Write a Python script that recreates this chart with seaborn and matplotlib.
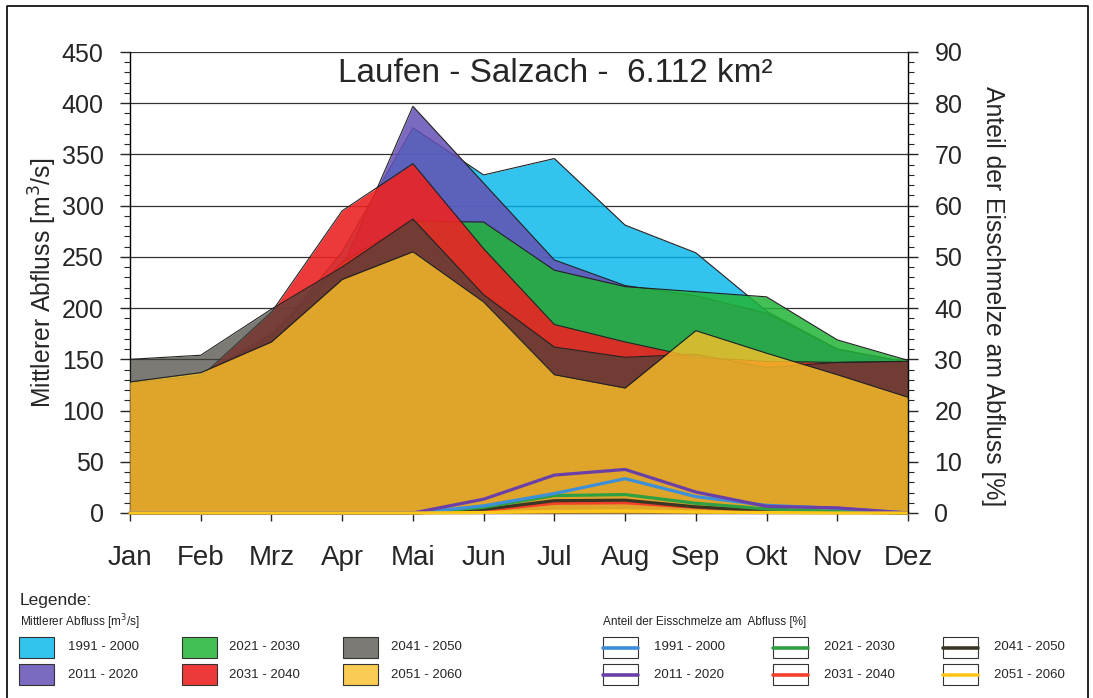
import numpy as np
import pandas as pd
import matplotlib
matplotlib.use("Agg")
import matplotlib.pyplot as plt
import seaborn as sns
from matplotlib.patches import Rectangle
from matplotlib.lines import Line2D
from matplotlib.ticker import MultipleLocator

# ---- data -------------------------------------------------------------
months = ["Jan", "Feb", "Mrz", "Apr", "Mai", "Jun", "Jul", "Aug", "Sep", "Okt", "Nov", "Dez"]
periods = ["1991 - 2000", "2011 - 2020", "2021 - 2030", "2031 - 2040", "2041 - 2050", "2051 - 2060"]

# mean discharge [m3/s]
q_1991 = [127, 134, 170, 255, 376, 330, 346, 281, 254, 197, 160, 147]
q_2011 = [127, 134, 175, 239, 397, 322, 247, 222, 212, 195, 160, 147]
q_2021 = [127, 134, 172, 245, 285, 284, 237, 221, 216, 211, 169, 149]
q_2031 = [127, 133, 196, 295, 341, 258, 184, 167, 152, 148, 147, 148]
q_2041 = [150, 154, 199, 240, 287, 213, 162, 152, 155, 142, 147, 148]
q_2051 = [128, 137, 167, 228, 255, 206, 135, 122, 178, 156, 135, 113]

# share of ice melt in discharge [%]
ice_1991 = [0, 0, 0, 0, 0, 1.4, 3.8, 6.7, 3.2, 1.5, 0.9, 0]
ice_2011 = [0, 0, 0, 0, 0, 2.7, 7.4, 8.5, 4.1, 1.3, 1.0, 0]
ice_2021 = [0, 0, 0, 0, 0, 1.1, 3.4, 3.6, 1.9, 0.8, 0.3, 0]
ice_2031 = [0, 0, 0, 0, 0, 0.5, 1.9, 2.0, 1.1, 0.4, 0.2, 0]
ice_2041 = [0, 0, 0, 0, 0, 0.7, 2.4, 2.5, 1.2, 0.4, 0.2, 0]
ice_2051 = [0, 0, 0, 0, 0, 0.1, 0.3, 0.4, 0.2, 0.1, 0.0, 0]

q_series = [q_1991, q_2011, q_2021, q_2031, q_2041, q_2051]
ice_series = [ice_1991, ice_2011, ice_2021, ice_2031, ice_2041, ice_2051]

# translucent area fills (colour, opacity), drawn in period order
area_colors = ["#00B4EC", "#6450B4", "#23B437", "#EB2323", "#44423A", "#FAC028"]
area_alphas = [0.8, 0.85, 0.85, 0.9, 0.7, 0.8]
line_colors = ["#3D8FD9", "#6B3FA8", "#2EA043", "#F2402A", "#3B3524", "#FFC61A"]

# ---- style ------------------------------------------------------------
sns.set_style("white")
plt.rcParams["font.family"] = ["Liberation Sans", "DejaVu Sans"]

W, H = 1093, 698
fig = plt.figure(figsize=(W / 100, H / 100), dpi=100)

L, R, T, B = 130, 908, 52, 513
ax = fig.add_axes([L / W, 1 - B / H, (R - L) / W, (B - T) / H])
x = np.arange(len(months))

# horizontal grid behind the areas
ax.set_axisbelow(True)
ax.yaxis.grid(True, color="#333333", linewidth=0.9)
ax.xaxis.grid(False)

for i, (vals, col, a) in enumerate(zip(q_series, area_colors, area_alphas)):
    ax.fill_between(x, 0, vals, color=col, alpha=a, linewidth=0, zorder=2 + i)
    sns.lineplot(x=x, y=vals, ax=ax, color="#222222", linewidth=0.8, zorder=2.5 + i,
                 legend=False)

ax.set_xlim(0, 11)
ax.set_ylim(0, 450)
ax.yaxis.set_major_locator(MultipleLocator(50))
ax.yaxis.set_minor_locator(MultipleLocator(10))
ax.set_xticks(x)
ax.set_xticklabels(months)
ax.tick_params(axis="y", which="major", direction="out", length=7, width=1, labelsize=18,
               pad=12, left=True, right=False)
ax.tick_params(axis="y", which="minor", direction="out", length=4, width=0.8, left=True,
               right=False)
ax.tick_params(axis="x", which="major", direction="out", length=6, width=1, labelsize=20,
               pad=17, bottom=True)
for s in ["top", "right"]:
    ax.spines[s].set_visible(False)
for s in ["left", "bottom"]:
    ax.spines[s].set_color("black")
    ax.spines[s].set_linewidth(1)
ax.set_ylabel("Mittlerer Abfluss [m$^3$/s]", fontsize=17.8, labelpad=2)
ax.set_xlabel("")

# ice melt share on the secondary axis
ax2 = ax.twinx()
ice_df = pd.DataFrame({
    "x": np.tile(x, len(periods)),
    "share": np.concatenate(ice_series),
    "period": np.repeat(periods, len(months)),
})
draw_order = ["2031 - 2040", "2041 - 2050", "2021 - 2030", "1991 - 2000", "2011 - 2020", "2051 - 2060"]
for p in draw_order:
    sub = ice_df[ice_df["period"] == p]
    sns.lineplot(data=sub, x="x", y="share", ax=ax2, color=line_colors[periods.index(p)],
                 linewidth=2.3, legend=False)
for line in ax2.lines:
    line.set_clip_on(False)
ax2.set_ylim(0, 90)
ax2.set_xlim(0, 11)
ax2.yaxis.set_major_locator(MultipleLocator(10))
ax2.yaxis.set_minor_locator(MultipleLocator(2))
ax2.tick_params(axis="y", which="major", direction="out", length=7, width=1, labelsize=18,
                pad=12, right=True, left=False)
ax2.tick_params(axis="y", which="minor", direction="out", length=4, width=0.8, right=True,
                left=False)
for s in ["top", "left", "bottom"]:
    ax2.spines[s].set_visible(False)
ax2.spines["right"].set_color("black")
ax2.spines["right"].set_linewidth(1)
ax2.set_ylabel("")
ax2.set_xlabel("")
ax2.grid(False)

# ---- overlay in pixel coordinates: title, axis label, frame, legend ----
ov = fig.add_axes([0, 0, 1, 1], facecolor="none")
ov.set_xlim(0, W)
ov.set_ylim(H, 0)
ov.axis("off")

ov.text(555, 73, "Laufen - Salzach -  6.112 km²", fontsize=24, ha="center", va="center")
ov.text(993, 296, "Anteil der Eisschmelze am Abfluss [%]", fontsize=17.8, rotation=270,
        ha="center", va="center")

# outer frame
ov.plot([7, 7, 1088, 1088], [H + 5, 6, 6, H + 5], color="black", linewidth=1.2,
        clip_on=False)

ov.text(20, 600, "Legende:", fontsize=12.5, ha="left", va="center")
ov.text(20, 622, "Mittlerer Abfluss [m$^3$/s]", fontsize=8.5, ha="left", va="center",
        color="#222222")
ov.text(603, 622, "Anteil der Eisschmelze am  Abfluss [%]", fontsize=8.5, ha="left",
        va="center", color="#222222")

col_box_x = [19, 182, 343]
col_lab_x = [68, 229, 391]
row_y = [637, 664]
line_box_x = [603, 773, 943]
line_lab_x = [654, 824, 994]
bw, bh = 35, 21

for k, p in enumerate(periods):
    col = k // 2
    row = k % 2
    # area patch
    ov.add_patch(Rectangle((col_box_x[col], row_y[row]), bw, bh, facecolor=area_colors[k],
                           alpha=area_alphas[k], edgecolor="none"))
    ov.add_patch(Rectangle((col_box_x[col], row_y[row]), bw, bh, facecolor="none",
                           edgecolor="#333333", linewidth=0.8))
    ov.text(col_lab_x[col], row_y[row] + bh / 2, p, fontsize=9.5, ha="left", va="center")
    # line sample
    ov.add_patch(Rectangle((line_box_x[col], row_y[row]), bw, bh, facecolor="white",
                           edgecolor="#333333", linewidth=0.8))
    ov.add_line(Line2D([line_box_x[col], line_box_x[col] + bw],
                       [row_y[row] + bh / 2, row_y[row] + bh / 2],
                       color=line_colors[k], linewidth=2.6))
    ov.text(line_lab_x[col], row_y[row] + bh / 2, p, fontsize=9.5, ha="left", va="center")

fig.savefig("out.png", dpi=100)
